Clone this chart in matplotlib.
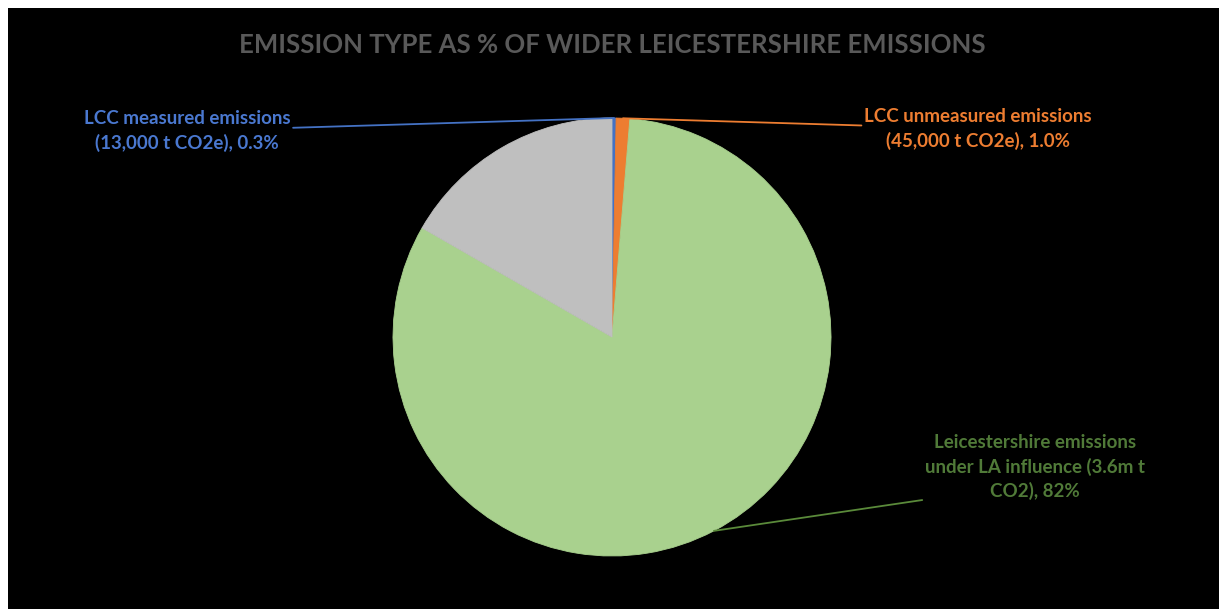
import numpy as np
import matplotlib
matplotlib.use('Agg')
import matplotlib.pyplot as plt

# emission shares (% of wider Leicestershire emissions), clockwise from 12 o'clock
labels = [
    'LCC measured emissions\n(13,000 t CO2e), 0.3%',
    'LCC unmeasured emissions\n(45,000 t CO2e), 1.0%',
    'Leicestershire emissions\nunder LA influence (3.6m t\nCO2), 82%',
    '',
]
shares = [0.3, 1.0, 82.0, 16.7]
colors = ['#4472C4', '#ED7D31', '#A9D18E', '#BFBFBF']
text_colors = ['#4a78d0', '#ED7D31', '#507a38', '#000000']
line_colors = ['#4472C4', '#ED7D31', '#5a8a3a', '#000000']

W, H = 1219, 609
plt.rcParams['font.family'] = ['Lato', 'DejaVu Sans']

fig = plt.figure(figsize=(W / 100, H / 100), dpi=100, facecolor='white')
ax = fig.add_axes([0, 0, 1, 1])

# black chart area with thin white margin top/left
ax.add_patch(plt.Rectangle((8, 0), W - 8, H - 8, facecolor='black', edgecolor='none', zorder=0))

cx, cy, r = 612, H - 337, 219
wedges, _ = ax.pie(shares, colors=colors, startangle=90, counterclock=False,
                   center=(cx, cy), radius=r, frame=True,
                   wedgeprops=dict(linewidth=0))
for w in wedges:
    w.set_edgecolor(w.get_facecolor())
    w.set_linewidth(0.6)
ax.set_xlim(0, W)
ax.set_ylim(0, H)
ax.set_aspect('equal')
ax.axis('off')

ax.text(612, H - 45, 'EMISSION TYPE AS % OF WIDER LEICESTERSHIRE EMISSIONS',
        ha='center', va='center', fontsize=18.5, fontweight='bold', color='#595959')

text_pos = [(187, H - 131), (978, H - 129), (1035, H - 467)]
relpos = [(0.5, 0.5), (0.5, 0.5), (0.0, 0.0)]
for w, lab, tc, lc, pos, rp in zip(wedges, labels, text_colors, line_colors, text_pos, relpos):
    if not lab:
        continue
    ang = np.deg2rad((w.theta1 + w.theta2) / 2)
    xy = (cx + r * np.cos(ang), cy + r * np.sin(ang))
    ax.annotate(lab, xy=xy, xytext=pos, ha='center', va='center',
                fontsize=13.5, fontweight='bold', color=tc, linespacing=1.4,
                arrowprops=dict(arrowstyle='-', color=lc, lw=1.3, shrinkA=0, shrinkB=0,
                                relpos=rp))

fig.savefig('out.png', dpi=100, facecolor='white')
